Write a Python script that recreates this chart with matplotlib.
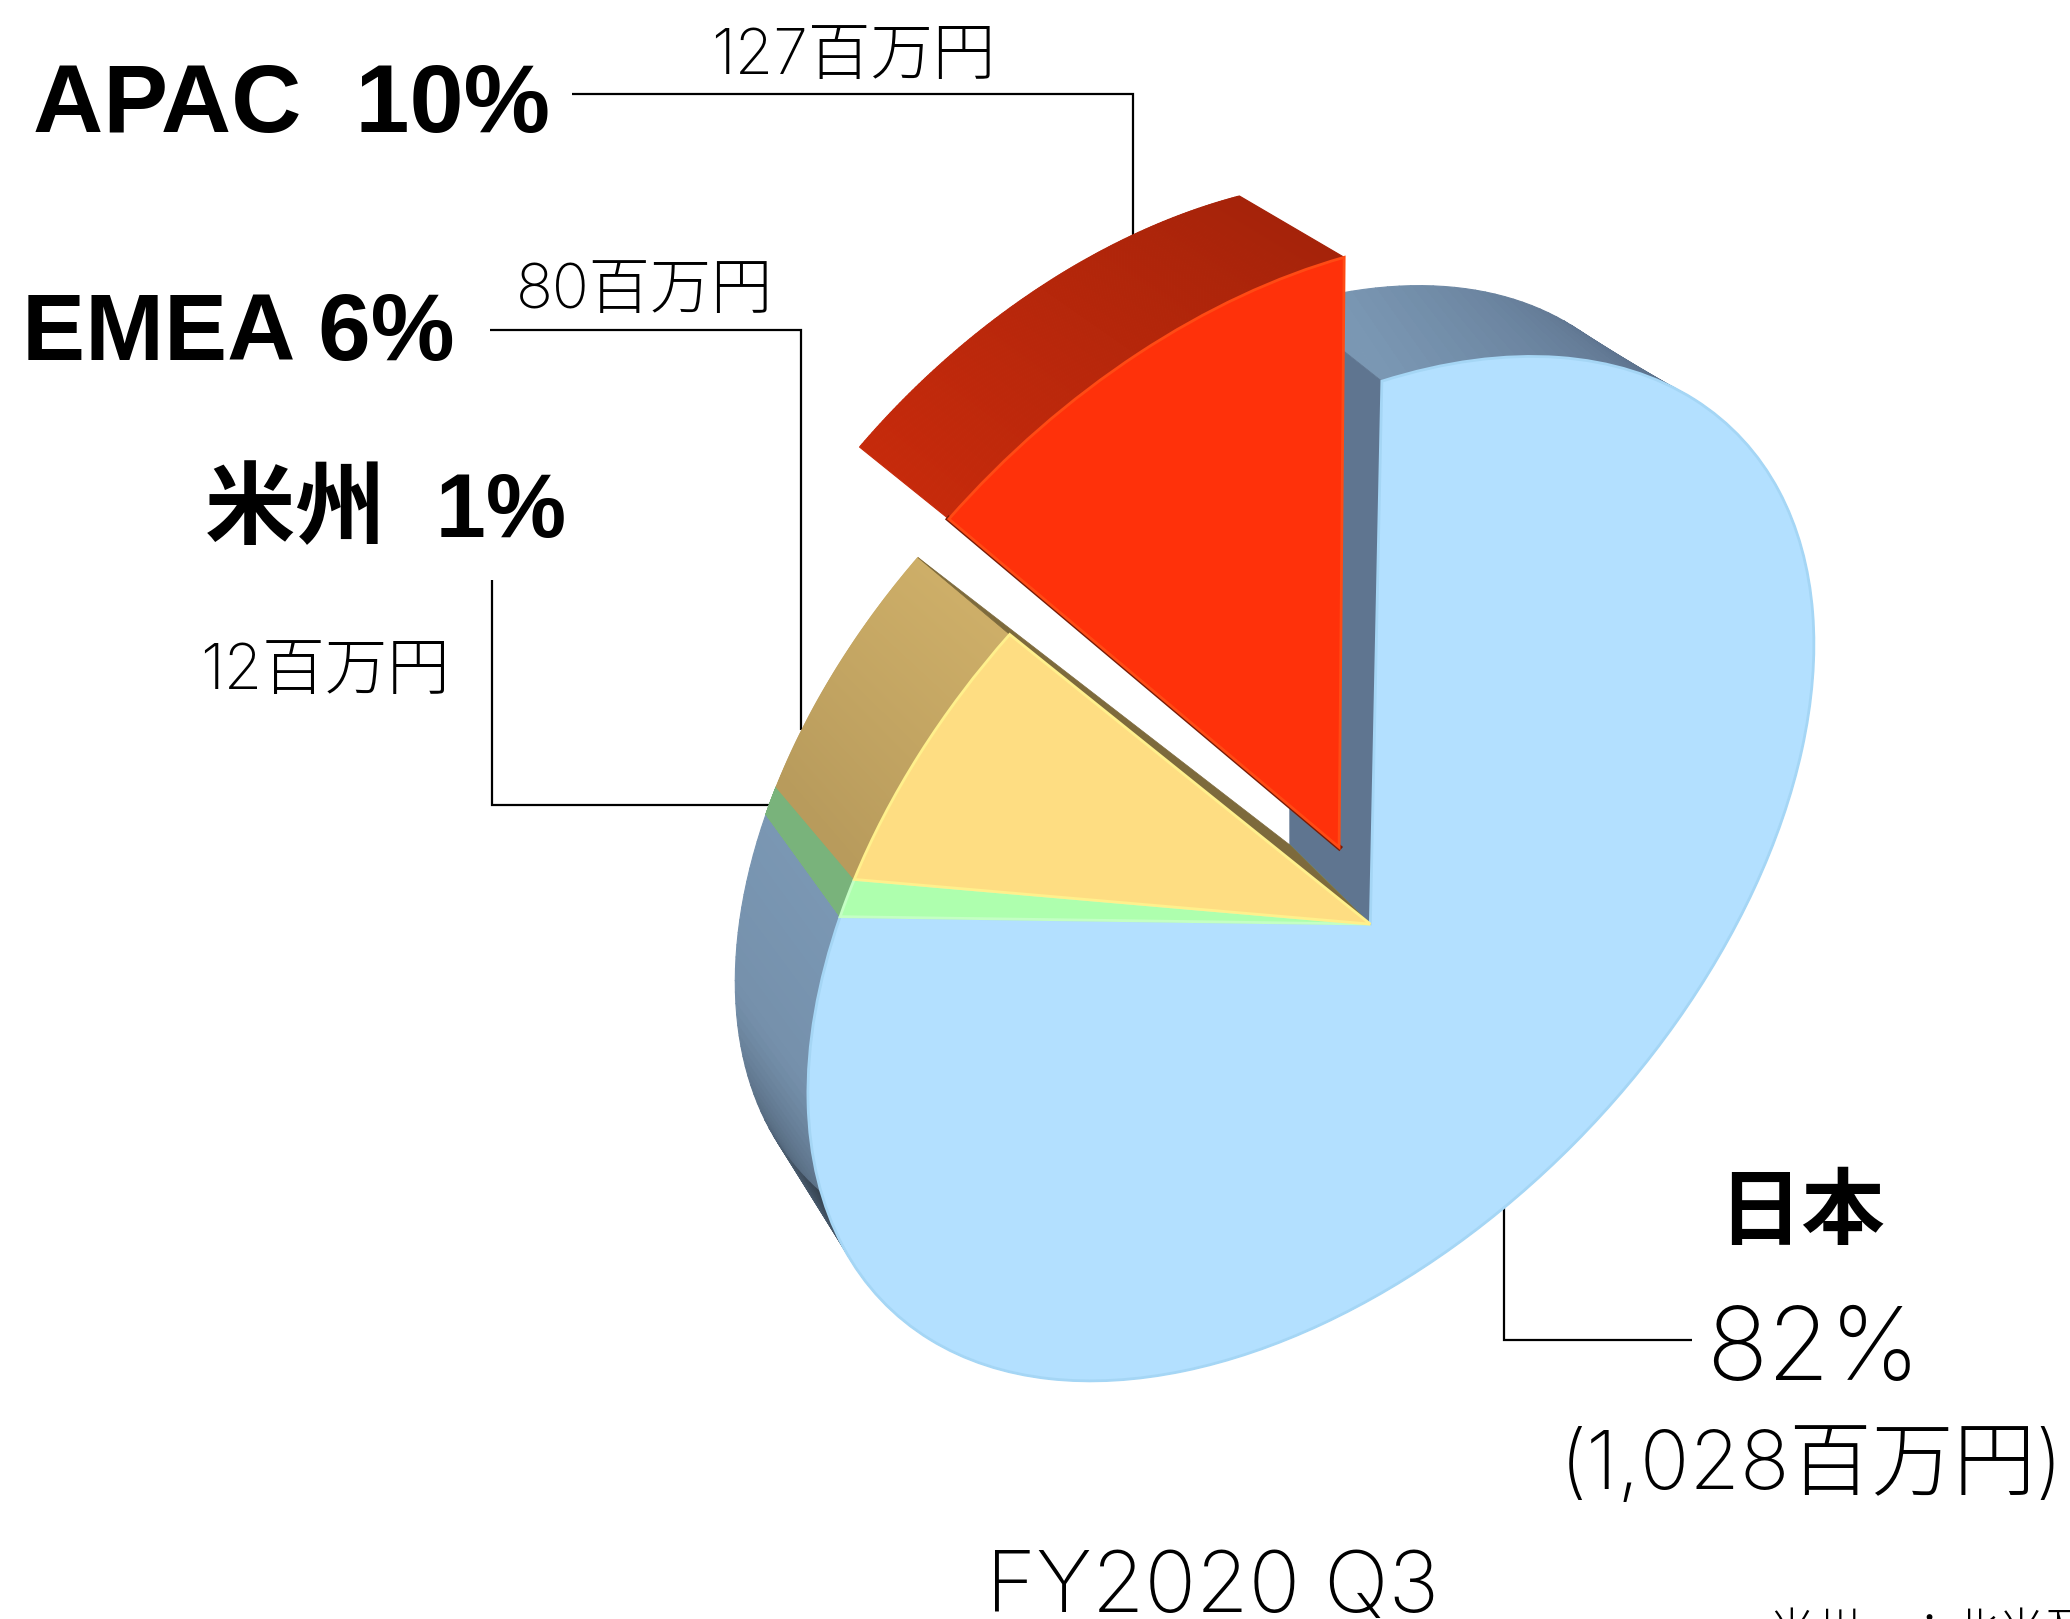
import numpy as np
import matplotlib
matplotlib.use("Agg")
import matplotlib.pyplot as plt
from matplotlib.collections import PolyCollection
from matplotlib.transforms import Transform

regions = ["日本", "米州", "EMEA", "APAC"]
amounts = [1028, 12, 80, 127]
shares = [82, 1, 6, 10]
chart_title = "FY2020 Q3"
footnote = "米州　：北米及び南米"

top_colors = ["#b3e0ff", "#aeffae", "#fedd82", "#ff310a"]
edge_colors = ["#a5d6f5", "#c4ffc4", "#fff08c", "#ff4a14"]
wall_colors = ["#5f7590", "#79b37b", "#7d6a3c", "#7a1a05"]
# rim colour along each wedge, (angle in degrees, rgb) pairs
rim_stops = [
    ([-207, -190, -170, -158, 30, 60, 90],
     ["#7a97b3", "#7590ab", "#4f6276", "#303c46", "#3f5062", "#5f7590", "#7a97b3"]),
    ([-211, -207], ["#79b37b", "#79b37b"]),
    ([-233, -211], ["#cdae68", "#b89b5c"]),
    ([-270, -233], ["#a5230a", "#c62a0b"]),
]
# the back face is not a true copy of the top, nudge its corners (degrees)
back_trim = [(-1, 0), (0, -1), (2.3, 0), (0.7, -1.3)]

S = 2070 / 1568  # measured in the shrunk picture
plt.rcParams["font.family"] = ["Liberation Sans", "Noto Sans CJK JP"]
thin = dict(family=["Inter", "Noto Sans CJK JP"], fontweight="light")


def boost(v, u, beta):
    par = v @ u
    perp = v - np.outer(par, u)
    den = 1 + beta * par
    return np.outer((par + beta) / den, u) + perp * (np.sqrt(1 - beta ** 2) / den)[:, None]


class TiltView(Transform):
    """Unit circle of the pie onto a tilted ellipse, with perspective."""
    input_dims = 2
    output_dims = 2

    def __init__(self, centre, scale, pole, anchor):
        super().__init__()
        cov = np.array([[145161.0, -64800.0], [-64800.0, 150544.0]]) * (S * scale) ** 2
        w, q = np.linalg.eigh(cov)
        self.m = q @ np.diag(np.sqrt(w)) @ q.T
        self.c = np.array(centre) * S
        p = np.linalg.solve(self.m, np.array(pole) * S - self.c)
        self.beta = np.linalg.norm(p)
        self.u = p / self.beta
        t = np.linalg.solve(self.m, np.array(anchor) * S - self.c)
        t = t / np.linalg.norm(t)
        t = boost(t[None, :], self.u, -self.beta)[0]
        # circle (0, 1) goes to screen direction (0, -1) before the spin
        self.spin = np.arctan2(t[1], t[0]) + np.pi / 2

    def transform_non_affine(self, xy):
        xy = np.asarray(xy, float)
        v = np.column_stack([xy[:, 0], -xy[:, 1]])
        c, s = np.cos(self.spin), np.sin(self.spin)
        v = np.column_stack([c * v[:, 0] - s * v[:, 1], s * v[:, 0] + c * v[:, 1]])
        return boost(v, self.u, self.beta) @ self.m.T + self.c


front = TiltView((993, 658), 1.0, (1038, 700), (1047, 287))
back = TiltView((917, 583), 0.945, (977, 640), (1005, 222))
back_red = TiltView((917, 583), 0.94, (977, 640), (978, 225))

fig = plt.figure(figsize=(20.7, 16.19), dpi=100)
ax = fig.add_axes([0, 0, 1, 1])
wedges, _ = ax.pie(amounts, startangle=90, counterclock=False,
                   explode=[0, 0, 0, 0.207], colors=top_colors)
ax.set_aspect("auto")
ax.set_xlim(0, 2070)
ax.set_ylim(1619, 0)
ax.axis("off")


def arc(w, shrink=1.0, trim=(0, 0)):
    a = np.radians(np.linspace(w.theta1 + trim[0], w.theta2 + trim[1], 240))
    return np.array(w.center) + shrink * w.r * np.column_stack([np.cos(a), np.sin(a)])


for i, w in enumerate(wedges):
    z = 2 + i * 4
    is_red = i == 3
    f = front.transform(arc(w))
    if is_red:
        b = back_red.transform(arc(w, 0.965, back_trim[i]))
    else:
        b = back.transform(arc(w, 1.0, back_trim[i]))
    # rim
    quads = [[f[k], f[k + 1], b[k + 1], b[k]] for k in range(len(f) - 1)]
    mid = np.linspace(w.theta1, w.theta2, len(quads))
    stops, cols = rim_stops[i]
    rgb = np.array([matplotlib.colors.to_rgb(c) for c in cols])
    fc = np.column_stack([np.interp(mid, stops, rgb[:, j]) for j in range(3)])
    ax.add_collection(PolyCollection(quads, facecolors=fc, edgecolors=fc, linewidths=0.8, zorder=z))
    # radial wall facing the gap around the red slice
    c = np.array([w.center])
    fc0 = front.transform(c)[0]
    bc0 = back.transform(c)[0]
    if i == 0:
        corner = back_red.transform(arc(w))[-1]
        ax.fill(*np.array([f[-1], corner, b[-1]]).T, color=cols[-1], lw=0.5, zorder=z)
        ax.fill(*np.array([f[-1], fc0, bc0, corner]).T, color=wall_colors[i], lw=0.5, zorder=z + 1)
    elif is_red:
        ax.plot(*np.array([f[-1], fc0]).T, color=wall_colors[i], lw=4, zorder=z + 1)
    else:
        ax.fill(*np.array([f[0], fc0, bc0, b[0]]).T, color=wall_colors[i], lw=0.5, zorder=z + 1)
    w.set_transform(front + ax.transData)
    w.set_edgecolor(edge_colors[i])
    w.set_linewidth(2)
    w.set_zorder(z + 2)

# leader lines
leaders = [
    ([433, 858, 858], [71, 71, 178]),
    ([371, 607, 607], [250, 250, 553]),
    ([373, 373, 585], [439, 610, 610]),
    ([1139, 1139, 1282], [915, 1015, 1015]),
]
for xs, ys in leaders:
    ax.plot(np.array(xs) * S, np.array(ys) * S, color="black", lw=1.6, zorder=1,
            solid_joinstyle="miter", solid_capstyle="butt")

jp, am, em, ap = range(4)
ax.text(33, 132, f"{regions[ap]}  {shares[ap]}%", fontsize=70, fontweight="bold")
ax.text(711, 74, f"{amounts[ap]}百万円", fontsize=45, **thin)
ax.text(22, 360, f"{regions[em]} {shares[em]}%", fontsize=68, fontweight="bold")
ax.text(516, 308, f"{amounts[em]}百万円", fontsize=44, **thin)
ax.text(205, 537, f"{regions[am]}  {shares[am]}%", fontsize=65, fontweight="bold")
ax.text(200, 689, f"{amounts[am]}百万円", fontsize=45, **thin)
ax.text(1718, 1238, regions[jp], fontsize=60, fontweight="bold")
ax.text(1706, 1380, f"{shares[jp]}%", fontsize=73, **thin)
ax.text(1560, 1489, f"({amounts[jp]:,}百万円)", fontsize=59, **thin)
ax.text(986, 1612, chart_title, fontsize=61.5, **thin)
ax.text(1769, 1646, footnote, fontsize=33, **thin)

fig.savefig("out.png", dpi=100, facecolor="white")
